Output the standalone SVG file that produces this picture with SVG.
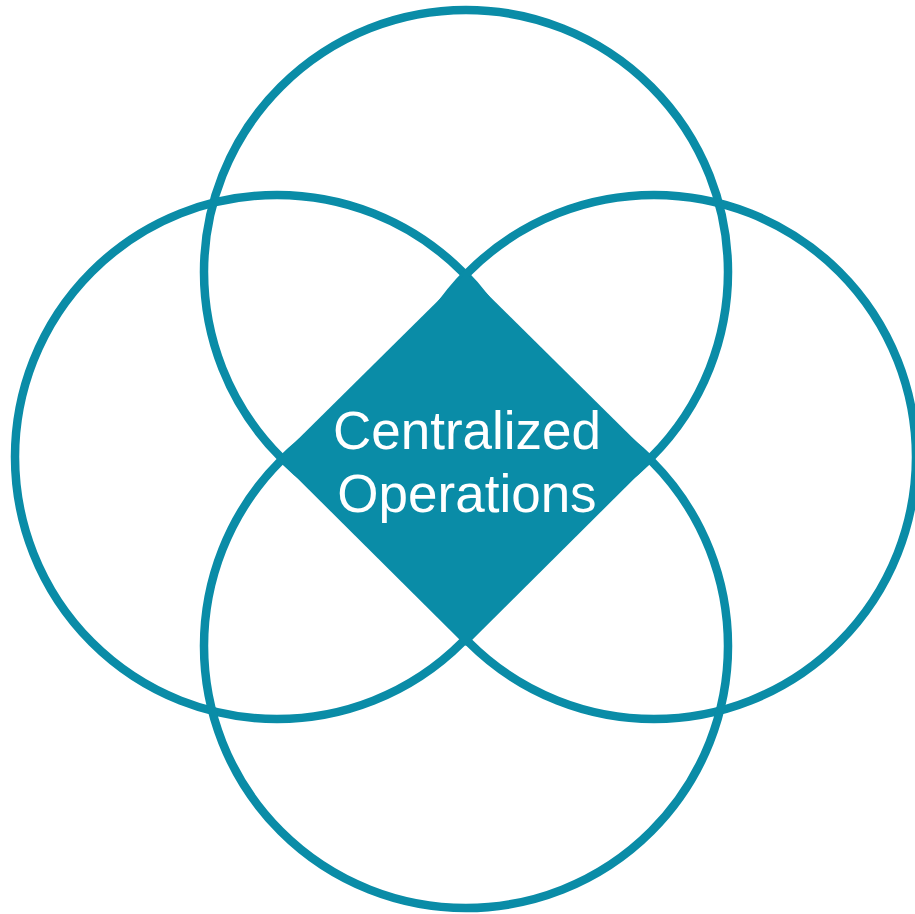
<svg xmlns="http://www.w3.org/2000/svg" width="915" height="914" viewBox="0 0 915 914">
<style>
.ring{fill:none;stroke:#0a8ca7;stroke-width:8.5}
.core{fill:#0a8ca7}
.lbl{font-family:"Liberation Sans",Arial,sans-serif;font-size:53px;fill:#ffffff;text-anchor:middle}
</style>
<rect width="915" height="914" fill="#ffffff"/>
<g id="connectors"></g>
<g id="circle-top"><circle class="ring" cx="466" cy="272" r="262"/></g>
<g id="circle-left"><circle class="ring" cx="277" cy="457" r="262"/></g>
<g id="circle-right"><circle class="ring" cx="654" cy="457" r="262"/></g>
<g id="circle-bottom"><circle class="ring" cx="466" cy="646" r="262"/></g>
<g id="center">
<polygon class="core" points="466,273 278,459 466,646 654,459"/>
<text class="lbl" x="467" y="449">Centralized</text>
<text class="lbl" x="467" y="512">Operations</text>
</g>
</svg>
